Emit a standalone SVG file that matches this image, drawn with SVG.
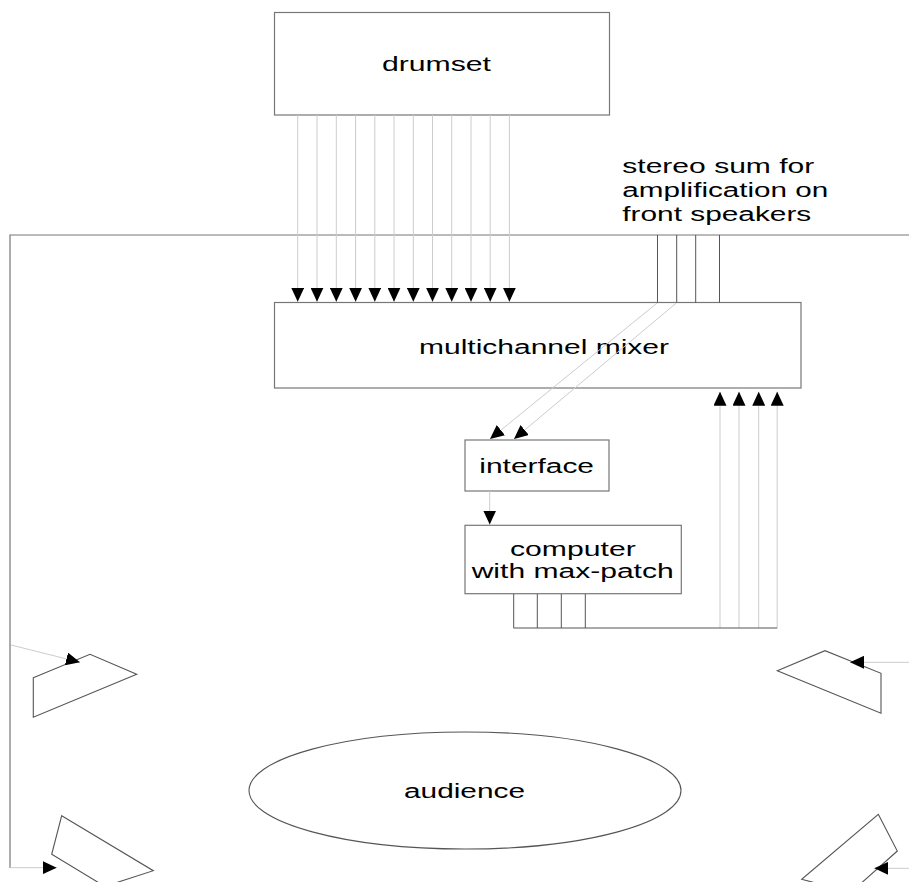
<svg xmlns="http://www.w3.org/2000/svg" width="909" height="882" viewBox="0 0 909 882">
<style>
.box{fill:#fff;stroke:#777;stroke-width:1.2}
.spk{fill:#fff;stroke:#555;stroke-width:1.1}
.wall{fill:none;stroke:#777;stroke-width:1.2}
.dark{fill:none;stroke:#555;stroke-width:1}
.light{fill:none;stroke:#ccc;stroke-width:1}
.t{font-family:"Liberation Sans",Arial,sans-serif;font-size:20px;fill:#000}
</style>
<defs>
<marker id="ah" viewBox="0 0 14 13" refX="14" refY="6.5" markerWidth="14" markerHeight="13" markerUnits="userSpaceOnUse" orient="auto">
<path d="M0,0 L14,6.5 L0,13 z" fill="#000"/>
</marker>
</defs>
<rect width="909" height="882" fill="#fff"/>
<g id="room">
<path class="wall" d="M909,235 H10 V868"/>
</g>
<g id="drumset">
<rect class="box" x="274.5" y="12.5" width="335" height="102.5"/>
<text class="t" x="382" y="71" textLength="109" lengthAdjust="spacingAndGlyphs">drumset</text>
</g>
<g id="mixer">
<rect class="box" x="274.5" y="302.5" width="526.5" height="85.5"/>
<text class="t" x="419" y="354" textLength="250" lengthAdjust="spacingAndGlyphs">multichannel mixer</text>
</g>
<g id="stereo-label">
<text class="t" x="622.3" y="173.3" textLength="192" lengthAdjust="spacingAndGlyphs">stereo sum for</text>
<text class="t" x="622.3" y="197.3" textLength="206" lengthAdjust="spacingAndGlyphs">amplification on</text>
<text class="t" x="622.3" y="221" textLength="189" lengthAdjust="spacingAndGlyphs">front speakers</text>
</g>
<g id="interface">
<rect class="box" x="465" y="440" width="144" height="51"/>
<text class="t" x="479.3" y="472.7" textLength="114.7" lengthAdjust="spacingAndGlyphs">interface</text>
</g>
<g id="computer">
<rect class="box" x="465" y="525.3" width="216.3" height="68.4"/>
<text class="t" x="510" y="555.7" textLength="125.7" lengthAdjust="spacingAndGlyphs">computer</text>
<text class="t" x="471.7" y="578.3" textLength="202" lengthAdjust="spacingAndGlyphs">with max-patch</text>
</g>
<g id="audience">
<ellipse class="spk" cx="465" cy="790.5" rx="216" ry="58.5"/>
<text class="t" x="404" y="798.3" textLength="121" lengthAdjust="spacingAndGlyphs">audience</text>
</g>
<g id="speaker-front-left">
<polygon class="spk" points="33.3,677.7 90,654.3 136.7,674.3 33.3,717.3"/>
</g>
<g id="speaker-front-right">
<polygon class="spk" points="777.3,670.7 825,650.7 881,673.3 881,713.3"/>
</g>
<g id="speaker-rear-left">
<polygon class="spk" points="61.7,815.7 153.3,870.7 104.8,886.4 51.7,854.3"/>
</g>
<g id="speaker-rear-right">
<polygon class="spk" points="878.3,814.3 897.3,851 851,892.3 801.7,879.3"/>
</g>
<g id="connectors">
<g class="light" marker-end="url(#ah)">
<line x1="297.7" y1="115" x2="297.7" y2="301.7"/>
<line x1="317" y1="115" x2="317" y2="301.7"/>
<line x1="336.3" y1="115" x2="336.3" y2="301.7"/>
<line x1="355.6" y1="115" x2="355.6" y2="301.7"/>
<line x1="374.8" y1="115" x2="374.8" y2="301.7"/>
<line x1="394" y1="115" x2="394" y2="301.7"/>
<line x1="413.3" y1="115" x2="413.3" y2="301.7"/>
<line x1="432.5" y1="115" x2="432.5" y2="301.7"/>
<line x1="451.7" y1="115" x2="451.7" y2="301.7"/>
<line x1="471" y1="115" x2="471" y2="301.7"/>
<line x1="490.2" y1="115" x2="490.2" y2="301.7"/>
<line x1="509.4" y1="115" x2="509.4" y2="301.7"/>
<line x1="657.5" y1="302.7" x2="490" y2="439"/>
<line x1="676.7" y1="302.7" x2="514" y2="439"/>
<line x1="489.7" y1="491" x2="489.7" y2="524.5"/>
<line x1="720" y1="628" x2="720" y2="391.7"/>
<line x1="739" y1="628" x2="739" y2="391.7"/>
<line x1="758.7" y1="628" x2="758.7" y2="391.7"/>
<line x1="777.2" y1="628" x2="777.2" y2="391.7"/>
<line x1="11" y1="645" x2="80" y2="662.3"/>
<line x1="909" y1="662.3" x2="850" y2="662.3"/>
<line x1="10" y1="867.7" x2="56.7" y2="867.7"/>
<line x1="909" y1="868.3" x2="874.3" y2="868.3"/>
</g>
<g class="dark">
<line x1="657.5" y1="235" x2="657.5" y2="302.7"/>
<line x1="676.7" y1="235" x2="676.7" y2="302.7"/>
<line x1="695.7" y1="235" x2="695.7" y2="302.7"/>
<line x1="719.5" y1="235" x2="719.5" y2="302.7"/>
<path d="M513.7,594 V628 H777.2"/>
<line x1="537.3" y1="594" x2="537.3" y2="628"/>
<line x1="561.3" y1="594" x2="561.3" y2="628"/>
<line x1="585.3" y1="594" x2="585.3" y2="628"/>
</g>
</g>
</svg>
